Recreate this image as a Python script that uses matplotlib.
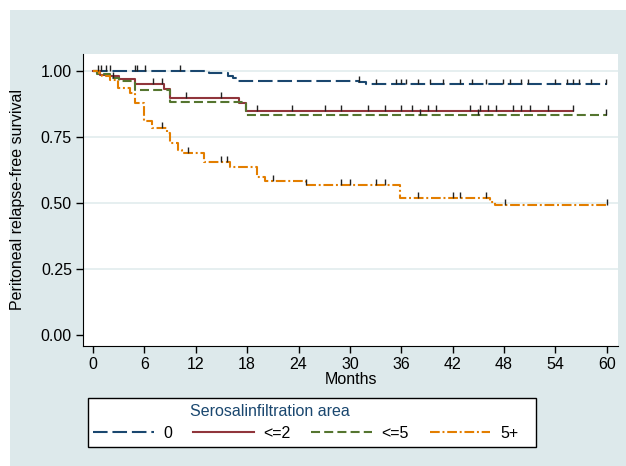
import numpy as np
import matplotlib
matplotlib.use("Agg")
import matplotlib.pyplot as plt
from matplotlib.patches import Rectangle

plt.rcParams['font.family'] = ['Liberation Sans', 'DejaVu Sans']
plt.rcParams['lines.scale_dashes'] = False

# Kaplan-Meier steps (months, survival)
t_0 = [0, 13.5, 15.8, 16.4, 16.8, 31.0, 31.9, 60]
s_0 = [1.0, 0.991, 0.979, 0.972, 0.962, 0.958, 0.949, 0.949]
cens_0 = [0.6, 0.9, 1.5, 2.0, 4.9, 5.1, 6.1, 10.2, 31.0, 33.1, 35.4, 36.0, 36.6, 38.0,
          39.3, 40.9, 42.8, 44.2, 45.9, 47.9, 48.7, 50.0, 50.8, 53.9, 55.3, 56.0,
          56.8, 58.2, 59.9]

t_2 = [0, 0.8, 2.0, 3.0, 4.9, 8.3, 9.0, 17.1, 17.9, 56.0]
s_2 = [1.0, 0.985, 0.979, 0.968, 0.950, 0.930, 0.897, 0.877, 0.848, 0.848]
cens_2 = [7.0, 8.0, 10.9, 15.0, 19.1, 23.2, 27.1, 29.0, 32.1, 34.1, 36.0, 37.2, 39.1,
          40.1, 44.0, 45.2, 46.1, 47.1, 49.0, 50.0, 51.0, 53.1, 56.0]

t_5 = [0, 0.5, 2.0, 3.0, 4.9, 9.0, 17.9, 60]
s_5 = [1.0, 0.99, 0.972, 0.963, 0.926, 0.881, 0.832, 0.832]
cens_5 = [2.3, 38.2, 45.0, 59.9]

t_5p = [0, 0.7, 1.1, 2.0, 2.95, 4.3, 4.9, 6.0, 6.85, 8.6, 9.0, 9.95, 10.35, 13.0,
        16.0, 19.1, 20.1, 24.85, 35.8, 46.3, 46.9, 60]
s_5p = [1.0, 0.991, 0.981, 0.966, 0.934, 0.915, 0.877, 0.812, 0.783, 0.764, 0.726,
        0.70, 0.69, 0.656, 0.637, 0.60, 0.584, 0.568, 0.518, 0.505, 0.492, 0.492]
cens_5p = [8.0, 11.1, 15.0, 15.6, 21.0, 24.9, 29.0, 30.0, 33.1, 34.1, 38.0, 42.0,
           42.8, 45.9, 48.1, 60.0]

labels = ['0', '<=2', '<=5', '5+']
colors = ['#1a476f', '#90353b', '#55752f', '#e37e00']

fig = plt.figure(figsize=(6.26, 4.66), dpi=100)
fig.patch.set_facecolor('white')
fig.patches.append(Rectangle((10/626, 0), 616/626, 456/466, transform=fig.transFigure,
                             facecolor='#dde9eb', edgecolor='none', zorder=-10))

ax = fig.add_axes([83/626, 1 - 346/466, 535/626, 292/466])
ax.set_facecolor('white')

styles = [dict(dashes=(10.5, 3.5)), dict(linestyle='-'), dict(dashes=(6.5, 3)),
          dict(dashes=(7, 2, 1.4, 2))]
series = [(t_0, s_0, cens_0), (t_2, s_2, cens_2), (t_5, s_5, cens_5), (t_5p, s_5p, cens_5p)]
handles = []
for (t, s, c), col, st, lab in zip(series, colors, styles, labels):
    ln, = ax.plot(t, s, drawstyle='steps-post', color=col, lw=1.5, label=lab, **st)
    handles.append(ln)
    t = np.array(t); s = np.array(s); c = np.array(c)
    cs = s[np.searchsorted(t, c, side='right') - 1]
    ax.vlines(c, cs, cs + 0.022, color='#222222', lw=1, zorder=3)

ax.set_xlim(-1.17, 61.3)
ax.set_ylim(-0.042, 1.064)
ax.set_xticks(np.arange(0, 61, 6))
ax.set_yticks([0, 0.25, 0.5, 0.75, 1.0])
ax.set_yticklabels(['%.2f' % v for v in [0, 0.25, 0.5, 0.75, 1.0]])
ax.tick_params(length=5, width=1, color='black', labelsize=11.5, pad=3)
for sp in ['top', 'right']:
    ax.spines[sp].set_visible(False)
ax.grid(axis='y', color='#e1eced', lw=1.2)
ax.get_ygridlines()[0].set_visible(False)
ax.set_axisbelow(True)

ax.set_ylabel('Peritoneal relapse-free survival', fontsize=11.5)
ax.yaxis.set_label_coords(-0.108, 0.5)
ax.set_xlabel('Months', fontsize=11.5)
ax.xaxis.set_label_coords(0.5, -0.09)

# legend box
fig.patches.append(Rectangle((88/626, 1 - 447/466), 448/626, 49/466, transform=fig.transFigure,
                             facecolor='white', edgecolor='black', lw=1, zorder=1))
fig.text(270/626, 1 - 412/466, 'Serosalinfiltration area', color='#1a476f',
         ha='center', va='center', fontsize=11.5, zorder=5)
leg = fig.legend(handles, labels, loc='center left', bbox_to_anchor=(93/626, 1 - 433/466),
                 ncol=4, frameon=False, handlelength=3.8, handletextpad=0.6,
                 columnspacing=1.3, fontsize=11.5, borderpad=0, borderaxespad=0)
leg.set_zorder(5)

plt.savefig('out.png', dpi=100, facecolor=fig.get_facecolor())
